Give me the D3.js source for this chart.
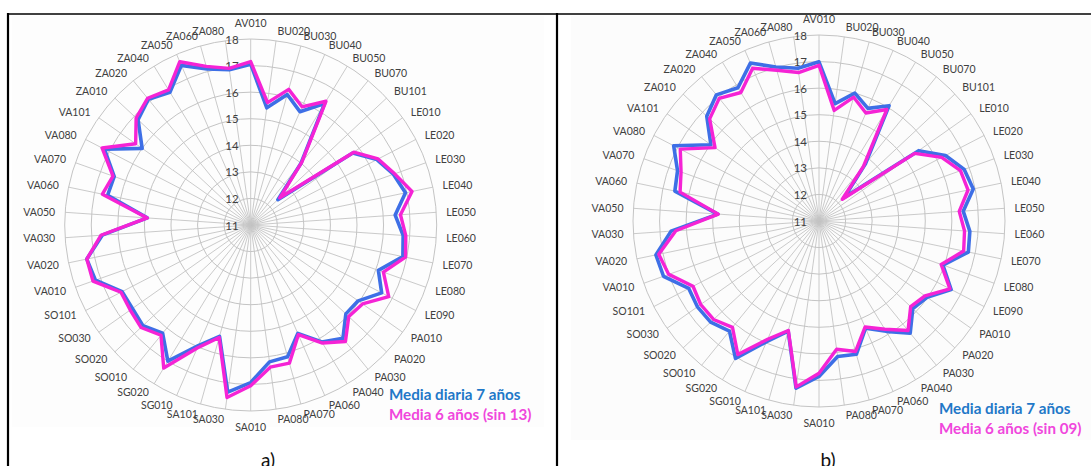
<!DOCTYPE html>
<html>
<head>
<meta charset="utf-8">
<script src="https://cdn.jsdelivr.net/npm/d3@7"></script>
<style>
  html, body { margin: 0; padding: 0; background: #fff; }
  svg { display: block; }
  text { font-family: Lato, "Open Sans", sans-serif; }
</style>
</head>
<body>
<svg id="fig" width="1091" height="466"></svg>
<script>
// Station codes, clockwise from the top
const categories = [
  "AV010","BU020","BU030","BU040","BU050","BU070","BU101",
  "LE010","LE020","LE030","LE040","LE050","LE060","LE070","LE080","LE090",
  "PA010","PA020","PA030","PA040","PA060","PA070","PA080",
  "SA010","SA030","SA101","SG010","SG020",
  "SO010","SO020","SO030","SO101",
  "VA010","VA020","VA030","VA050","VA060","VA070","VA080","VA101",
  "ZA010","ZA020","ZA040","ZA050","ZA060","ZA080"
];

// Radial axis ticks
const ticks = [11, 12, 13, 14, 15, 16, 17, 18];

// Panel a) daily mean over 7 years vs 6-year mean without 2013
const meanA7 = [
  17.05, 15.45, 16.10, 15.65, 16.35, 14.00, 12.40,
  15.70, 16.35, 16.70, 16.95, 16.45, 16.75, 16.85, 16.10, 16.55,
  15.95, 15.90, 16.50, 16.15, 15.45, 16.15, 16.20,
  16.93, 17.35, 15.35, 15.95, 17.00,
  16.25, 16.55, 16.45, 16.45,
  17.20, 17.30, 16.60, 14.90, 16.50, 16.45, 17.20, 16.00,
  16.80, 17.10, 16.85, 17.55, 17.10, 16.90
];
const meanA6 = [
  17.15, 15.65, 16.30, 15.85, 16.45, 14.05, 12.50,
  15.75, 16.40, 16.75, 17.20, 16.65, 16.85, 16.95, 16.30, 16.85,
  16.15, 16.05, 16.65, 16.20, 15.50, 16.40, 16.40,
  17.05, 17.55, 15.40, 16.05, 17.30,
  16.35, 16.65, 16.55, 16.50,
  17.30, 17.30, 16.65, 14.90, 16.70, 16.50, 17.30, 16.30,
  16.90, 17.15, 16.95, 17.70, 17.20, 16.95
];

// Panel b) daily mean over 7 years vs 6-year mean without 2009
const meanB7 = [
  16.99, 15.46, 16.00, 15.62, 16.08, 13.77, 12.30,
  15.59, 16.36, 16.80, 16.93, 16.44, 16.69, 16.74, 15.95, 16.60,
  15.98, 15.83, 16.44, 15.86, 15.40, 16.21, 16.15,
  16.85, 17.35, 15.30, 15.95, 17.05,
  16.34, 16.58, 16.60, 16.52,
  17.21, 17.27, 16.58, 14.82, 16.54, 16.65, 17.16, 15.98,
  16.78, 17.12, 16.87, 17.48, 17.02, 16.80
];
const meanB6 = [
  16.86, 15.20, 15.84, 15.43, 15.91, 13.65, 12.20,
  15.41, 16.20, 16.65, 16.73, 16.29, 16.49, 16.56, 15.88, 16.55,
  15.88, 15.72, 16.31, 15.77, 15.35, 16.10, 15.87,
  16.73, 17.30, 15.28, 15.85, 16.88,
  16.16, 16.43, 16.45, 16.34,
  17.00, 17.16, 16.40, 14.80, 16.34, 16.51, 16.88, 15.79,
  16.63, 16.95, 16.66, 17.27, 16.89, 16.64
];

const legendA = ["Media diaria 7 años", "Media 6 años (sin 13)"];
const legendB = ["Media diaria 7 años", "Media 6 años (sin 09)"];
const panelTags = ["a)", "b)"];

const BLUE = "#3e6fe6", PINK = "#f523d5";
const BLUE_TXT = "#1f78c8", PINK_TXT = "#f046dc";
const GRID = "#c4c4c4", LABEL = "#404040";

const svg = d3.select("#fig");

// Table frame around the two panels
const frame = svg.append("g").attr("stroke", "#000").attr("fill", "none");
frame.append("line").attr("x1", 8).attr("x2", 1091).attr("y1", 14).attr("y2", 14).attr("stroke-width", 1.6);
frame.append("line").attr("x1", 8).attr("x2", 8).attr("y1", 13).attr("y2", 466).attr("stroke-width", 2.2);
frame.append("line").attr("x1", 557).attr("x2", 557).attr("y1", 13).attr("y2", 466).attr("stroke-width", 2.2);

// faint plot backgrounds
svg.append("rect").attr("x", 12).attr("y", 16).attr("width", 532).attr("height", 411).attr("fill", "#fdfdfd");
svg.append("rect").attr("x", 571).attr("y", 16).attr("width", 520).attr("height", 424).attr("fill", "#fcfcfc");

const N = categories.length;
const angle = d3.scaleLinear().domain([0, N]).range([0, 2 * Math.PI]);
const radius = d3.scaleLinear().domain([11, 18]).range([0, 186]);
const LABEL_R = 196;

function radar(cx, cy, s7, s6, legend, lx, ly, tag, tagX) {
  const g = svg.append("g").attr("transform", `translate(${cx},${cy})`);

  // concentric gridlines
  g.append("g").selectAll("circle").data(ticks.slice(1)).join("circle")
    .attr("r", d => radius(d)).attr("fill", "none")
    .attr("stroke", GRID).attr("stroke-width", 1);

  // spokes
  g.append("g").selectAll("line").data(categories).join("line")
    .attr("x1", 0).attr("y1", 0)
    .attr("x2", (d, i) => radius(18) * Math.sin(angle(i)))
    .attr("y2", (d, i) => -radius(18) * Math.cos(angle(i)))
    .attr("stroke", GRID).attr("stroke-width", 0.9);

  // radial tick labels along the top spoke
  g.append("g").selectAll("text").data(ticks).join("text")
    .attr("x", -12).attr("y", d => -radius(d) + 4.5)
    .attr("text-anchor", "end").attr("font-size", 11.5).attr("fill", LABEL)
    .text(d => d);

  // category labels
  g.append("g").selectAll("text").data(categories).join("text")
    .each(function (d, i) {
      const a = angle(i), s = Math.sin(a), c = Math.cos(a);
      const px = LABEL_R * s, py = -LABEL_R * c;
      const t = d3.select(this).attr("font-size", 10.5).attr("fill", LABEL);
      if (Math.abs(s) < 1e-6) {
        t.attr("text-anchor", "middle").attr("x", 0)
         .attr("y", c > 0 ? py - 2.5 : py + 9.5);
      } else {
        t.attr("text-anchor", s > 0 ? "start" : "end")
         .attr("x", px).attr("y", py + 4);
      }
    })
    .text(d => d);

  // series lines
  const line = d3.lineRadial()
    .angle((d, i) => angle(i))
    .radius(d => radius(d))
    .curve(d3.curveLinearClosed);

  g.append("path").datum(s7).attr("d", line)
    .attr("fill", "none").attr("stroke", BLUE).attr("stroke-width", 3.6)
    .attr("stroke-linejoin", "round");
  g.append("path").datum(s6).attr("d", line)
    .attr("fill", "none").attr("stroke", PINK).attr("stroke-width", 3.4)
    .attr("stroke-linejoin", "round");

  // legend
  const lg = svg.append("g").attr("font-size", 15.2).attr("font-weight", 700);
  lg.append("text").attr("x", lx).attr("y", ly).attr("fill", BLUE_TXT).text(legend[0]);
  lg.append("text").attr("x", lx).attr("y", ly + 19.5).attr("fill", PINK_TXT).text(legend[1]);

  // panel tag
  svg.append("text").attr("x", tagX).attr("y", 467).attr("text-anchor", "middle")
    .attr("font-size", 19).attr("fill", "#111").text(tag);
}

radar(250.7, 225, meanA7, meanA6, legendA, 389, 400, panelTags[0], 268);
radar(819, 221, meanB7, meanB6, legendB, 939, 414, panelTags[1], 828);
</script>
</body>
</html>
